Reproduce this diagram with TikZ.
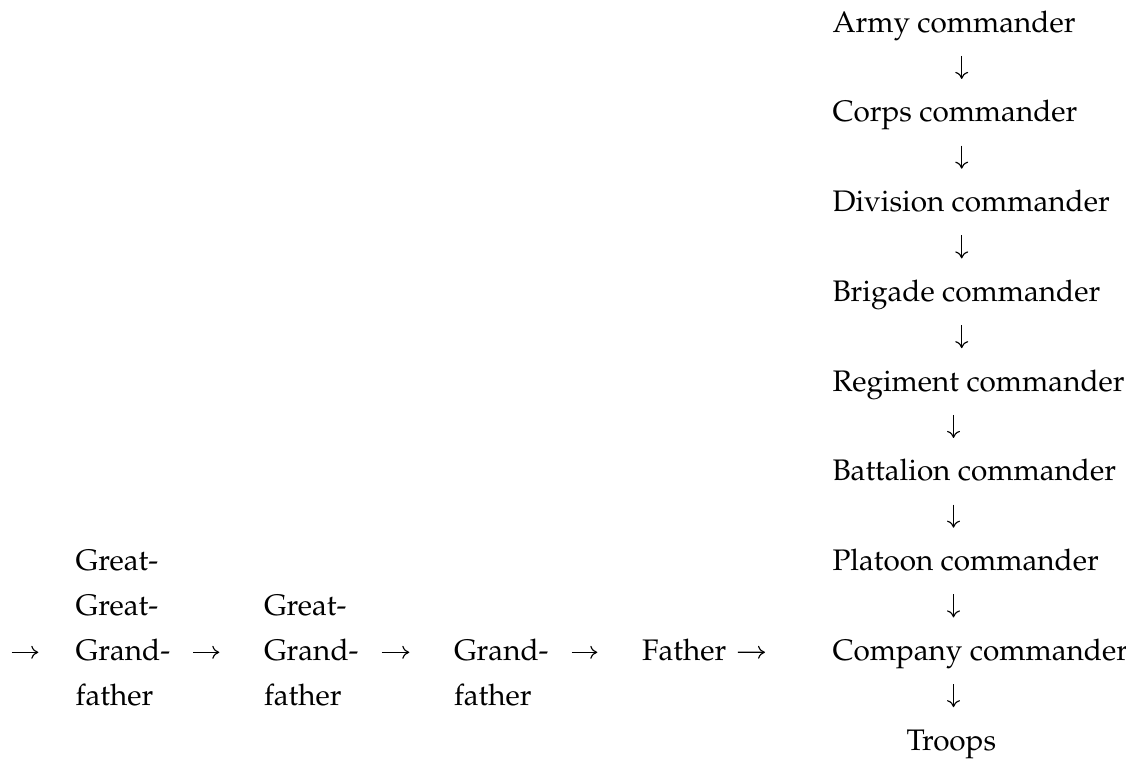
\documentclass[tikz,border=0pt]{standalone}
\usepackage[T1]{fontenc}
\usepackage{mathpazo}
\usetikzlibrary{arrows.meta}
\tikzset{
  lbl/.style={inner sep=0pt, outer sep=0pt, anchor=base west, font=\fontsize{29.7}{44.9}\selectfont},
  arr/.style={line width=1.15pt, -{Computer Modern Rightarrow[length=7pt,width=13pt]}},
  harr/.style={arr, shorten <=23pt, shorten >=44.7pt},
}
\begin{document}
\begin{tikzpicture}[x=1pt,y=-1pt]
\useasboundingbox (0,0) rectangle (1126,758);
% left chain
\node[lbl] (g1a) at (75.7,570.5) {Great-};
\node[lbl] (g1b) at (75.7,615.4) {Great-};
\node[lbl] (g1c) at (75.7,660.3) {Grand-};
\node[lbl] (g1d) at (75.7,705.2) {father};
\node[lbl] (g2b) at (264,615.4) {Great-};
\node[lbl] (g2c) at (264,660.3) {Grand-};
\node[lbl] (g2d) at (264,705.2) {father};
\node[lbl] (g3c) at (454,660.3) {Grand-};
\node[lbl] (g3d) at (454,705.2) {father};
\node[lbl] (fa) at (642,660.3) {Father};
% right column
\node[lbl] (c0) at (832.5,32) {Army commander};
\node[lbl] (c1) at (832.5,121.75) {Corps commander};
\node[lbl] (c2) at (832.5,211.5) {Division commander};
\node[lbl] (c3) at (832.5,301.25) {Brigade commander};
\node[lbl] (c4) at (832.5,391) {Regiment commander};
\node[lbl] (c5) at (832.5,480.75) {Battalion commander};
\node[lbl] (c6) at (832.5,570.5) {Platoon commander};
\node[lbl] (c7) at (832.5,660.25) {Company commander};
\node[lbl] (tr) at (906.5,750) {Troops};
\coordinate (start) at (11.7,652.3);
% horizontal arrows
\draw[arr, shorten >=37.4pt] (start) -- ([yshift=8pt]g1c.base west);
\draw[harr] ([yshift=8pt]g1c.base east) -- ([yshift=8pt]g2c.base west);
\draw[harr] ([yshift=8pt]g2c.base east) -- ([yshift=8pt]g3c.base west);
\draw[harr] ([yshift=8pt]g3c.base east) -- ([yshift=8pt]fa.base west);
\draw[arr, shorten <=11.7pt, shorten >=67.5pt] ([yshift=8pt]fa.base east) -- ([yshift=8pt]c7.base west);
% vertical arrows
\draw[arr] ([xshift=129.2pt,yshift=-23.9pt]c0.base west) -- ([xshift=129.2pt,yshift=42.85pt]c1.base west);
\draw[arr] ([xshift=129.2pt,yshift=-23.9pt]c1.base west) -- ([xshift=129.2pt,yshift=42.85pt]c2.base west);
\draw[arr] ([xshift=129.2pt,yshift=-23.9pt]c2.base west) -- ([xshift=129.2pt,yshift=42.85pt]c3.base west);
\draw[arr] ([xshift=129.2pt,yshift=-23.9pt]c3.base west) -- ([xshift=129.2pt,yshift=42.85pt]c4.base west);
\draw[arr] ([xshift=121pt,yshift=-23.9pt]c4.base west) -- ([xshift=121pt,yshift=42.85pt]c5.base west);
\draw[arr] ([xshift=121pt,yshift=-23.9pt]c5.base west) -- ([xshift=121pt,yshift=42.85pt]c6.base west);
\draw[arr] ([xshift=121pt,yshift=-23.9pt]c6.base west) -- ([xshift=121pt,yshift=42.85pt]c7.base west);
\draw[arr] ([xshift=121pt,yshift=-23.9pt]c7.base west) -- ([xshift=47pt,yshift=42.85pt]tr.base west);
\end{tikzpicture}
\end{document}
